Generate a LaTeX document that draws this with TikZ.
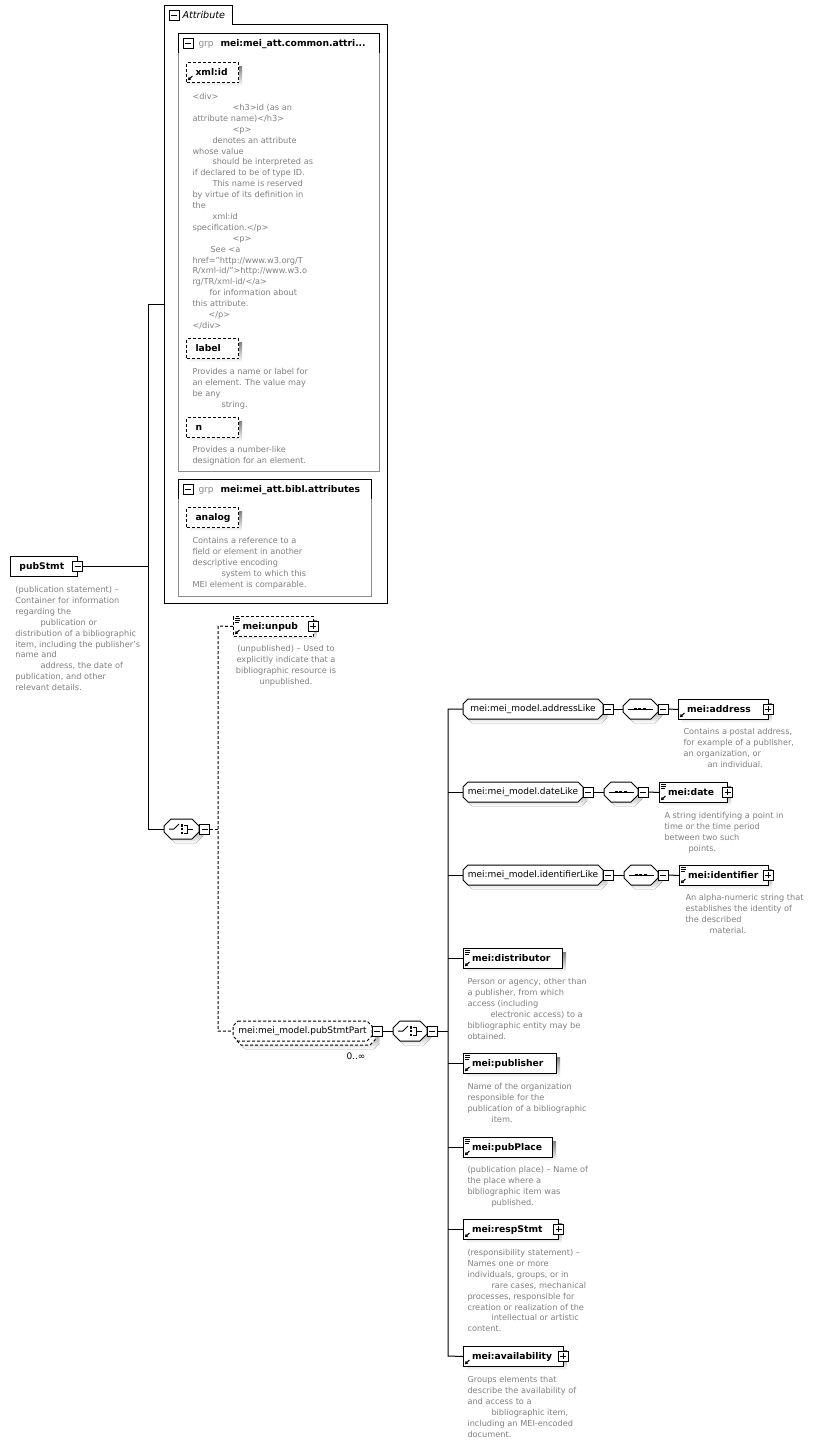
\documentclass[tikz,border=0pt]{standalone}
\usepackage{fontspec}
\setmainfont{DejaVu Sans}
\usetikzlibrary{arrows.meta}
\definecolor{descgray}{RGB}{128,128,128}
\definecolor{shade}{RGB}{192,192,192}
\definecolor{grpgray}{RGB}{140,140,140}
\newcommand{\dfont}{\fontsize{8.2}{10.9}\selectfont}
\newcommand{\lfont}{\fontsize{9.2}{11}\selectfont\bfseries}
\newcommand{\mfont}{\fontsize{9}{11}\selectfont}
\newcommand{\octpath}[5]{(#1+#5,#2) -- (#3-#5,#2) -- (#3,#2+#5) -- (#3,#4-#5) -- (#3-#5,#4) -- (#1+#5,#4) -- (#1,#4-#5) -- (#1,#2+#5) -- cycle}
\newcommand{\octo}[7]{%
  \begin{scope}[shift={(4,4)}]\fill[shade] \octpath{#2}{#3}{#4}{#5}{#6};\end{scope}
  \draw[fill=white,#7] \octpath{#2}{#3}{#4}{#5}{#6};
  \node[inner sep=0,minimum width=#4-#2,minimum height=#5-#3] (#1) at ({(#2+#4)/2},{(#3+#5)/2}) {};
}
\newcommand{\minusbox}[3]{\node[pmbox] (#1) at (#2,#3) {}; \draw[line width=1pt] (#2-3,#3) -- (#2+3,#3);}
\newcommand{\plusbox}[3]{\node[pmbox] (#1) at (#2,#3) {}; \draw[line width=1pt] (#2-3,#3) -- (#2+3,#3) (#2,#3-3) -- (#2,#3+3);}
\newcommand{\elbox}[6]{%
  \fill[shade] (#2+4,#3+4) rectangle (#4+4,#3+24);
  \node[ebox,#5,minimum width=#4-#2,anchor=north west] (#1) at (#2,#3) {};
  \node[lbl,anchor=base west] (#1-t) at (#2+8.5,#3+13.5) {#6};
}
\newcommand{\attbox}[3]{%
  \fill[shade] (190,#2+4) rectangle (242,#2+24);
  \node[abox,anchor=north west] (#1) at (186,#2) {};
  \node[lbl,anchor=base west] (#1-t) at (195,#2+13.5) {#3};
}
\newcommand{\docicon}[2]{\draw[line width=0.7pt] (#1+2,#2+2.5) -- ++(5,0) (#1+2,#2+4.5) -- ++(5,0) (#1+2,#2+6.5) -- ++(4,0);}
\newcommand{\reficon}[2]{\draw[line width=1pt,-{Triangle[length=3pt,width=3.4pt]}] (#1+6.5,#2-6) -- (#1+1.8,#2-1.8);}
\newcommand{\choiceicon}[2]{%
  \draw[line width=1pt] (#1+5,#2) -- (#1+10,#2) -- (#1+15,#2-5);
  \fill (#1+16.5,#2-5) rectangle (#1+19,#2-2.5);
  \fill (#1+16.5,#2-1.25) rectangle (#1+19,#2+1.25);
  \fill (#1+16.5,#2+2.5) rectangle (#1+19,#2+5);
  \draw[line width=1pt] (#1+20,#2-4) -- (#1+23,#2-4) -- (#1+23,#2+4) -- (#1+20,#2+4) (#1+23,#2) -- (#1+29,#2);
}
\newcommand{\seqicon}[2]{%
  \draw[line width=1pt] (#1+5,#2) -- (#1+30,#2);
  \fill (#1+10.7,#2-1.4) rectangle ++(2.8,2.8);
  \fill (#1+15.2,#2-1.4) rectangle ++(2.8,2.8);
  \fill (#1+19.7,#2-1.4) rectangle ++(2.8,2.8);
}
\newcommand{\dsc}[4]{\node[desc] (#1) at (#2,#3-4.6) {\strut #4};}
\tikzset{
  pmbox/.style={draw,fill=white,minimum size=10,inner sep=0,line width=1pt},
  ebox/.style={draw,fill=white,minimum height=20,inner sep=0},
  abox/.style={draw,dash pattern=on 3pt off 2pt,fill=white,minimum width=52,minimum height=20,inner sep=0},
  lbl/.style={font=\lfont,inner sep=0},
  mdl/.style={font=\mfont,inner sep=0},
  grp/.style={font=\mfont,text=grpgray,inner sep=0,anchor=base west},
  desc/.style={font=\dfont,text=descgray,align=left,inner sep=0,anchor=north west},
  dsh/.style={dash pattern=on 3pt off 2pt},
}
\begin{document}
\begin{tikzpicture}[x=1pt,y=-1pt,line width=1pt]
\fill[white] (0,0) rectangle (813,1444);
\useasboundingbox (0,0) rectangle (813,1444);

% ---------- Attribute container ----------
\draw (164,603) -- (164,5) -- (232,5) -- (232,24) -- (387,24) -- (387,603) -- cycle;
\node[inner sep=0,minimum width=223,minimum height=579,anchor=north west] (attrbox) at (164,24) {};
\minusbox{attrM}{174}{15}
\node[font=\fontsize{9.6}{11}\selectfont\itshape,anchor=base west,inner sep=0] (attrT) at (182,18.5) {Attribute};

% group 1
\draw[grpgray] (178,53) -- (178,471) -- (379,471) -- (379,53);
\draw (178,53) -- (178,33) -- (379,33) -- (379,53);
\minusbox{g1M}{188}{43}
\node[grp] (g1grp) at (198,46.5) {grp};
\node[lbl,anchor=base west] (g1T) at (220,46.5) {mei:mei\_att.common.attri...};

\attbox{xmlid}{62}{xml:id}
\reficon{186}{82}
\dsc{xmlidD}{192}{96}{<div>\\
\hspace*{40pt}<h3>id (as an\\
attribute name)</h3>\\
\hspace*{40pt}<p>\\
\hspace*{20pt}denotes an attribute\\
whose value\\
\hspace*{20pt}should be interpreted as\\
if declared to be of type ID.\\
\hspace*{20pt}This name is reserved\\
by virtue of its definition in\\
the\\
\hspace*{20pt}xml:id\\
specification.</p>\\
\hspace*{40pt}<p>\\
\hspace*{18pt}See <a\\
href="http://www.w3.org/T\\
R/xml-id/">http://www.w3.o\\
rg/TR/xml-id/</a>\\
\hspace*{17pt}for information about\\
this attribute.\\
\hspace*{16pt}</p>\\
</div>}

\attbox{label}{338}{label}
\dsc{labelD}{192}{371}{Provides a name or label for\\an element. The value may\\be any\\\hspace*{29pt}string.}

\attbox{nattr}{417}{n}
\dsc{nD}{192}{449}{Provides a number-like\\designation for an element.}

% group 2
\draw[grpgray] (178,499) -- (178,596) -- (371,596) -- (371,499);
\draw (178,499) -- (178,479) -- (371,479) -- (371,499);
\minusbox{g2M}{188}{489}
\node[grp] (g2grp) at (198,492.5) {grp};
\node[lbl,anchor=base west] (g2T) at (220,492.5) {mei:mei\_att.bibl.attributes};

\attbox{analog}{507}{analog}
\dsc{analogD}{192}{540}{Contains a reference to a\\field or element in another\\descriptive encoding\\\hspace*{29pt}system to which this\\MEI element is comparable.}

% ---------- pubStmt ----------
\node[draw,line width=1.4pt,fill=white,minimum width=67,minimum height=20,inner sep=0,anchor=north west] (pubStmt) at (10,556) {};
\node[lbl,anchor=base west] (pubStmt-t) at (19,569.5) {pubStmt};
\minusbox{pubStmtM}{77.5}{566}
\dsc{pubStmtD}{15}{589}{(publication statement) --\\Container for information\\regarding the\\\hspace*{25pt}publication or\\distribution of a bibliographic\\item, including the publisher's\\name and\\\hspace*{25pt}address, the date of\\publication, and other\\relevant details.}

% choice 1
\octo{choice1}{164}{819}{199}{839}{7}{}
\choiceicon{164}{829}
\minusbox{choice1M}{204.5}{829}

\coordinate (busA) at (148,304);
\coordinate (busB) at (148,829);
\draw (pubStmtM.east) -- (pubStmtM.east -| busA);
\draw (attrbox.west |- busA) -- (busA) -- (busB) -- (choice1.west);

% unpub
\fill[shade] (237,620) rectangle (317,640);
\node[ebox,dsh,minimum width=80,anchor=north west] (unpub) at (233,616) {};
\node[lbl,anchor=base west] (unpub-t) at (242,629.5) {mei:unpub};
\docicon{233}{616}
\reficon{233}{636}
\plusbox{unpubP}{313}{626}
\node[desc,align=center,anchor=north] (unpubD) at (286,648-4.6) {\strut (unpublished) -- Used to\\explicitly indicate that a\\bibliographic resource is\\unpublished.};

% pubStmtPart (repeated)
\begin{scope}[shift={(7,8)}]\fill[shade] \octpath{233}{1021}{372}{1041}{5};\end{scope}
\begin{scope}[shift={(3,4)}]\draw[dsh,fill=white] \octpath{233}{1021}{372}{1041}{5};\end{scope}
\draw[dsh,fill=white] \octpath{233}{1021}{372}{1041}{5};
\node[inner sep=0,minimum width=139,minimum height=20] (psp) at (302.5,1031) {};
\node[mdl] (psp-t) at (psp) {mei:mei\_model.pubStmtPart};
\minusbox{pspM}{377}{1031}
\node[mdl,anchor=base west] (psp-n) at (346,1059.5) {0..∞};

\coordinate (dA) at (218,626);
\coordinate (dB) at (218,1031);
\draw[dsh] (choice1M.east) -- (choice1M.east -| dA);
\draw[dsh] (unpub.west) -- (dA) -- (dB) -- (psp.west);

% choice 2
\octo{choice2}{393}{1021}{427}{1041}{7}{}
\choiceicon{393}{1031}
\minusbox{choice2M}{432}{1031}
\draw (pspM.east) -- (choice2.west);

\coordinate (bB1) at (448,709);
\coordinate (bB2) at (448,1356);
\draw (choice2M.east) -- (choice2M.east -| bB1);

% addressLike
\octo{addrLike}{463}{699}{603}{719}{5}{}
\node[mdl] (addrLike-t) at (addrLike) {mei:mei\_model.addressLike};
\minusbox{addrLikeM}{608}{709}
\octo{seq1}{623}{699}{658}{719}{7}{}
\seqicon{623}{709}
\minusbox{seq1M}{663}{709}
\elbox{addr}{678}{699}{768}{}{mei:address}
\reficon{678}{719}
\plusbox{addrP}{768}{709}
\draw (addrLikeM.east) -- (seq1.west);
\draw (seq1M.east) -- (addr.west);
\dsc{addrD}{683}{731}{Contains a postal address,\\for example of a publisher,\\an organization, or\\\hspace*{24pt}an individual.}

% dateLike
\octo{dateLike}{463}{782}{583}{802}{5}{}
\node[mdl] (dateLike-t) at (dateLike) {mei:mei\_model.dateLike};
\minusbox{dateLikeM}{588}{792}
\octo{seq2}{604}{782}{638}{802}{7}{}
\seqicon{604}{792}
\minusbox{seq2M}{643}{792}
\elbox{date}{659}{782}{727}{}{mei:date}
\docicon{659}{782}
\reficon{659}{802}
\plusbox{dateP}{727.5}{792}
\draw (dateLikeM.east) -- (seq2.west);
\draw (seq2M.east) -- (date.west);
\dsc{dateD}{664}{815}{A string identifying a point in\\time or the time period\\between two such\\\hspace*{24pt}points.}

% identifierLike
\octo{idLike}{463}{865}{603}{885}{5}{}
\node[mdl] (idLike-t) at (idLike) {mei:mei\_model.identifierLike};
\minusbox{idLikeM}{608}{875}
\octo{seq3}{624}{865}{658}{885}{7}{}
\seqicon{624}{875}
\minusbox{seq3M}{663}{875}
\elbox{ident}{679}{865}{768}{}{mei:identifier}
\docicon{679}{865}
\reficon{679}{885}
\plusbox{identP}{768}{875}
\draw (idLikeM.east) -- (seq3.west);
\draw (seq3M.east) -- (ident.west);
\dsc{identD}{685}{897}{An alpha-numeric string that\\establishes the identity of\\the described\\\hspace*{24pt}material.}

% distributor
\elbox{distr}{463}{948}{562}{}{mei:distributor}
\docicon{463}{948}
\reficon{463}{968}
\dsc{distrD}{467}{981}{Person or agency, other than\\a publisher, from which\\access (including\\\hspace*{23pt}electronic access) to a\\bibliographic entity may be\\obtained.}

% publisher
\elbox{publ}{463}{1053}{556}{}{mei:publisher}
\docicon{463}{1053}
\reficon{463}{1073}
\dsc{publD}{467}{1086}{Name of the organization\\responsible for the\\publication of a bibliographic\\\hspace*{24pt}item.}

% pubPlace
\elbox{place}{463}{1137}{552}{}{mei:pubPlace}
\docicon{463}{1137}
\reficon{463}{1157}
\dsc{placeD}{467}{1169}{(publication place) -- Name of\\the place where a\\bibliographic item was\\\hspace*{24pt}published.}

% respStmt
\elbox{resp}{463}{1219}{558}{}{mei:respStmt}
\reficon{463}{1239}
\plusbox{respP}{558.5}{1229}
\dsc{respD}{467}{1252}{(responsibility statement) --\\Names one or more\\individuals, groups, or in\\\hspace*{24pt}rare cases, mechanical\\processes, responsible for\\creation or realization of the\\\hspace*{24pt}intellectual or artistic\\content.}

% availability
\elbox{avail}{463}{1346}{563}{}{mei:availability}
\reficon{463}{1366}
\plusbox{availP}{563}{1356}
\dsc{availD}{467}{1379}{Groups elements that\\describe the availability of\\and access to a\\\hspace*{24pt}bibliographic item,\\including an MEI-encoded\\document.}

% right bus
\draw (addrLike.west) -- (bB1) -- (bB2) -- (avail.west);
\draw (dateLike.west) -- (dateLike.west -| bB1);
\draw (idLike.west) -- (idLike.west -| bB1);
\draw (distr.west) -- (distr.west -| bB1);
\draw (publ.west) -- (publ.west -| bB1);
\draw (place.west) -- (place.west -| bB1);
\draw (resp.west) -- (resp.west -| bB1);
\end{tikzpicture}
\end{document}
